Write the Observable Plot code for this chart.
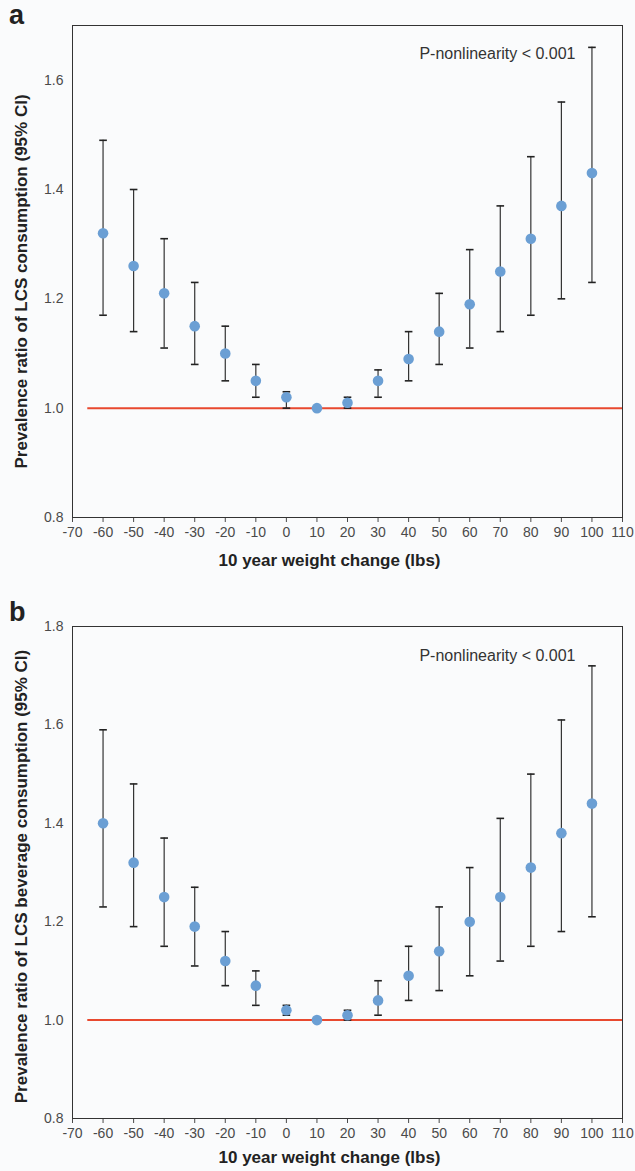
<!DOCTYPE html>
<html><head><meta charset="utf-8">
<script src="https://cdn.jsdelivr.net/npm/d3@7"></script>
<script src="https://cdn.jsdelivr.net/npm/@observablehq/plot@0.6"></script>
<style>
body{margin:0;background:#fafbfc;font-family:"Liberation Sans",Arial,sans-serif;}
.panel{position:relative;width:635px;}
.panel svg{display:block;}
.tag{position:absolute;left:9px;font:bold 27px/27px "Liberation Sans",Arial,sans-serif;color:#222;}
</style></head><body>
<div id="a" class="panel"><div class="tag" style="top:2px">a</div></div>
<div id="b" class="panel"><div class="tag" style="top:19px">b</div></div>
<script>
// x categories: 10 year weight change (lbs)
const weightChange = [-60, -50, -40, -30, -20, -10, 0, 10, 20, 30, 40, 50, 60, 70, 80, 90, 100];

// Panel a: LCS consumption
const prA    = [1.32, 1.26, 1.21, 1.15, 1.10, 1.05, 1.02, 1.00, 1.01, 1.05, 1.09, 1.14, 1.19, 1.25, 1.31, 1.37, 1.43];
const lowerA = [1.17, 1.14, 1.11, 1.08, 1.05, 1.02, 1.00, 1.00, 1.00, 1.02, 1.05, 1.08, 1.11, 1.14, 1.17, 1.20, 1.23];
const upperA = [1.49, 1.40, 1.31, 1.23, 1.15, 1.08, 1.03, 1.00, 1.02, 1.07, 1.14, 1.21, 1.29, 1.37, 1.46, 1.56, 1.66];

// Panel b: LCS beverage consumption
const prB    = [1.40, 1.32, 1.25, 1.19, 1.12, 1.07, 1.02, 1.00, 1.01, 1.04, 1.09, 1.14, 1.20, 1.25, 1.31, 1.38, 1.44];
const lowerB = [1.23, 1.19, 1.15, 1.11, 1.07, 1.03, 1.01, 1.00, 1.00, 1.01, 1.04, 1.06, 1.09, 1.12, 1.15, 1.18, 1.21];
const upperB = [1.59, 1.48, 1.37, 1.27, 1.18, 1.10, 1.03, 1.00, 1.02, 1.08, 1.15, 1.23, 1.31, 1.41, 1.50, 1.61, 1.72];

// tick labels
const xTicks  = [-70, -60, -50, -40, -30, -20, -10, 0, 10, 20, 30, 40, 50, 60, 70, 80, 90, 100, 110];
const yTicksA = [0.8, 1.0, 1.2, 1.4, 1.6];
const yTicksB = [0.8, 1.0, 1.2, 1.4, 1.6, 1.8];

// reference line (PR = 1) and its extent
const refValue = 1.0;
const refFrom = -65, refTo = 110;

const xTitle = "10 year weight change (lbs)";
const yTitleA = "Prevalence ratio of LCS consumption (95% CI)";
const yTitleB = "Prevalence ratio of LCS beverage consumption (95% CI)";
const annotation = "P-nonlinearity < 0.001";

const capSymbol = {
  draw(context, size) {
    const r = Math.sqrt(size) / 2;
    context.moveTo(-r, 0);
    context.lineTo(r, 0);
  }
};

function rows(pr, lo, hi) {
  return weightChange.map((x, i) => ({x, pr: pr[i], lo: lo[i], hi: hi[i]}));
}

function panel(data, opts) {
  return Plot.plot({
    width: 635,
    height: opts.height,
    marginTop: opts.marginTop,
    marginBottom: opts.marginBottom,
    marginLeft: 72,
    marginRight: 13,
    style: {background: "transparent", fontFamily: "'Liberation Sans', Arial, sans-serif", fontSize: "14px", color: "#4a4a4a"},
    x: {domain: [-70, 110], ticks: xTicks, tickFormat: d => String(d), tickSize: 5, tickPadding: 5, label: null},
    y: {domain: opts.yDomain, ticks: opts.yTicks, tickFormat: d3.format(".1f"), tickSize: 0, tickPadding: 9, label: null},
    marks: [
      Plot.ruleY([refValue], {x1: refFrom, x2: refTo, stroke: "#e8492f", strokeWidth: 2}),
      Plot.ruleX(data, {x: "x", y1: "lo", y2: "hi", stroke: "#333", strokeWidth: 1.2}),
      Plot.dot(data, {x: "x", y: "hi", symbol: capSymbol, r: 4.3, stroke: "#222", strokeWidth: 1.6, fill: "none"}),
      Plot.dot(data, {x: "x", y: "lo", symbol: capSymbol, r: 4.3, stroke: "#222", strokeWidth: 1.6, fill: "none"}),
      Plot.dot(data, {x: "x", y: "pr", r: 5.3, fill: "#6b9fd4", stroke: "none"}),
      Plot.frame({stroke: "#333", strokeWidth: 1}),
      Plot.text([annotation], {frameAnchor: "top-right", dx: -47, dy: opts.annDy, text: d => d, fontSize: 16, fill: "#333", textAnchor: "end"}),
      Plot.text([xTitle], {frameAnchor: "bottom", dx: -18, dy: opts.xTitleDy, text: d => d, fontSize: 17, fontWeight: "bold", fill: "#222", textAnchor: "middle"}),
      Plot.text([opts.yTitle], {frameAnchor: "left", dx: -51, dy: opts.yTitleDy, rotate: -90, text: d => d, fontSize: 17, fontWeight: "bold", fill: "#222", textAnchor: "middle"})
    ]
  });
}

document.getElementById("a").appendChild(panel(rows(prA, lowerA, upperA), {
  height: 580, marginTop: 25, marginBottom: 63, yDomain: [0.8, 1.7], yTicks: yTicksA,
  annDy: 22, xTitleDy: 48, yTitleDy: 10, yTitle: yTitleA
}));
document.getElementById("b").appendChild(panel(rows(prB, lowerB, upperB), {
  height: 591, marginTop: 46, marginBottom: 53, yDomain: [0.8, 1.8], yTicks: yTicksB,
  annDy: 23, xTitleDy: 44, yTitleDy: 4, yTitle: yTitleB
}));
</script>
</body></html>
